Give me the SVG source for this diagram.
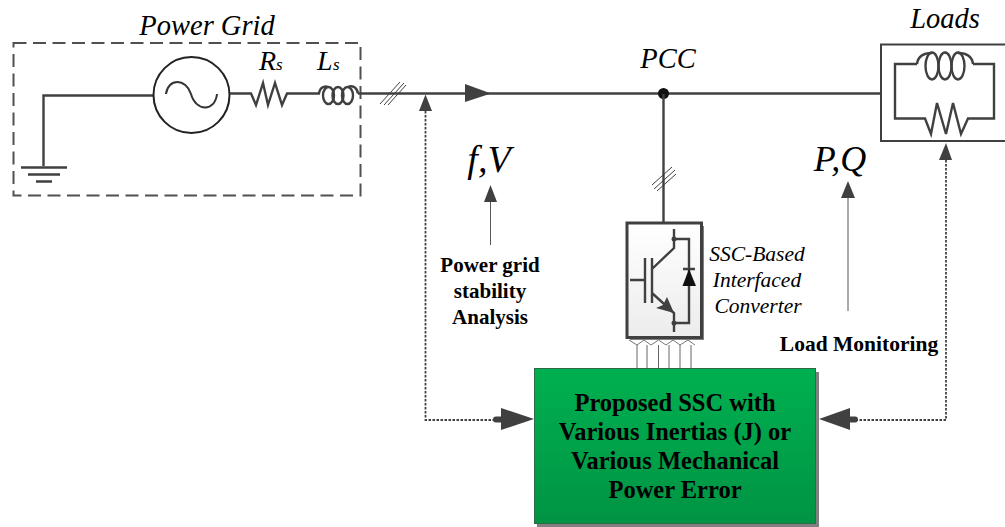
<svg xmlns="http://www.w3.org/2000/svg" width="1005" height="527" viewBox="0 0 1005 527">
<style>
.w{fill:none;stroke:#404040;stroke-width:2.400;stroke-linejoin:miter}
.t{fill:none;stroke:#404040;stroke-width:1}
.d{fill:none;stroke:#404040;stroke-width:1.800;stroke-dasharray:2.500 1.500}
.a{fill:#404040;stroke:none}
.s{fill:#808080;stroke:none}
text{font-family:"Liberation Serif","Times New Roman",serif;fill:#000}
.i{font-style:italic}
.b{font-weight:bold}
</style>
<defs>
<linearGradient id="g" x1="0" y1="0" x2="0" y2="1"><stop offset="0" stop-color="#00b050"/><stop offset="1" stop-color="#009444"/></linearGradient>
<linearGradient id="gw" x1="0" y1="0" x2="0" y2="1"><stop offset="0" stop-color="#fff"/><stop offset="1" stop-color="#ececec"/></linearGradient>
</defs>
<rect width="1005" height="527" fill="#fff"/>
<g id="ssc">
<rect x="537" y="372" width="282" height="155" class="s"/>
<rect x="534.500" y="368.500" width="281" height="155" fill="url(#g)" stroke="#2b6b45" stroke-width="1"/>
<g class="b" font-size="24.500" text-anchor="middle"><text x="675" y="411">Proposed SSC with</text><text x="675" y="440">Various Inertias (J) or</text><text x="675" y="469">Various Mechanical</text><text x="675" y="498">Power Error</text></g>
</g>
<g id="power-grid">
<rect x="13.500" y="43" width="347" height="152.500" fill="none" stroke="#505050" stroke-width="2" stroke-dasharray="13 6.500"/>
<text class="i" x="207" y="35" font-size="28.500" text-anchor="middle">Power Grid</text>
<path class="w" d="M153 95.500H43.500V166"/>
<path class="w" d="M21 167.500H67M28 174.500H60M36 181.500H52"/>
<circle cx="191.500" cy="95" r="38" fill="#fff" stroke="#222" stroke-width="2"/>
<path fill="none" stroke="#333" stroke-width="2" d="M166 94C168 78 186 78 191 94C196 112 215 112 217 94"/>
<path class="w" d="M230 93.500H251L256 105L263 83L268 105L275 83L282 105L287 93.500H320"/>
<path class="w" d="M319 93.500C320 86 326 86 328 87M348 87C352 85 357 87 358 93.500"/>
<ellipse class="w" cx="328.500" cy="95.500" rx="5.500" ry="8.500"/><ellipse class="w" cx="338" cy="95.500" rx="5.500" ry="8.500"/><ellipse class="w" cx="347.500" cy="95.500" rx="5.500" ry="8.500"/>
<text class="i" x="259" y="70" font-size="28">R</text>
<text class="i" x="276" y="70" font-size="17">s</text>
<text class="i" x="317" y="70" font-size="28">L</text>
<text class="i" x="333" y="70" font-size="17">s</text>
</g>
<g id="connectors">
<path class="w" d="M358 93.500H880"/>
<path class="t" d="M380 104L400 82M384 105L404 83M388 105L406 85"/>
<path class="a" d="M465 84L491 93.500L465 102Z"/>
<circle cx="663.500" cy="93.500" r="5.500" fill="#111"/>
<path class="w" d="M663.500 94V222"/>
<path class="t" d="M652 185L672 167M654 189L675 170M657 191L676 174"/>
<path class="d" d="M425.500 111V420H495"/>
<path class="a" d="M425.500 94.500L432 111H419Z"/>
<path class="a" d="M501 416.500H496a3 3 0 0 0 0 6H501V430L534 419L501 408Z"/>
<path class="d" d="M946 160V420H852"/>
<path class="a" d="M946 143L952 160H939Z"/>
<path class="a" d="M850 408V416.500H855a3 3 0 0 1 0 6H850V430L819 419Z"/>
<path fill="none" stroke="#555" stroke-width="1" d="M490.500 202V245M848 198V311"/>
<path class="a" d="M490.500 185L497 202H484Z"/>
<path class="a" d="M848 181L855 198H841Z"/>
<path fill="none" stroke="#666" stroke-width="1" d="M637 345V368M647 345V368M658.500 345V368M669 345V368M680 345V368M691 345V368"/>
<path fill="none" stroke="#777" stroke-width="1" d="M629 340L637 345L644 340L651 345L658.500 340L666 345L673 340L680 345L688 340L695 345"/>
</g>
<g id="converter">
<rect x="630" y="226" width="74" height="114" class="s"/>
<rect x="627" y="223" width="74.500" height="114.500" fill="url(#gw)" stroke="#404040" stroke-width="3"/>
<path class="w" d="M630 280H645M645 258V303M652 258V303M652 269L674 248V229M652 293L674 313V332"/>
<path class="w" d="M674 239H689V323H674M683 269H695"/>
<circle cx="674" cy="239" r="2.500" fill="#404040"/><circle cx="674" cy="323" r="2.500" fill="#404040"/>
<path d="M689 269L682.500 286H696Z" fill="#111"/>
<path class="a" d="M674 313L656 308L663 305L667 297Z"/>
<g class="i" font-size="21.500" text-anchor="middle"><text x="757" y="261">SSC-Based</text><text x="757" y="287">Interfaced</text><text x="758" y="313">Converter</text></g>
</g>
<g id="loads">
<rect x="881" y="44.500" width="126" height="96.500" fill="#fff" stroke="#404040" stroke-width="2"/>
<text class="i" x="945" y="28" font-size="28.500" text-anchor="middle">Loads</text>
<path class="w" d="M917 64H895V118.500H925L931 134L937 103L946 134L953 103L961 134L968 118.500H994V64H973"/>
<path class="w" d="M917 64C918 56 924 53 932 53M958 53C966 53 972 56 973 64"/>
<ellipse class="w" cx="932" cy="66" rx="6.500" ry="13.500"/><ellipse class="w" cx="945" cy="66" rx="6.500" ry="13.500"/><ellipse class="w" cx="958" cy="66" rx="6.500" ry="13.500"/>
</g>
<g id="labels">
<text class="i" x="668" y="68" font-size="28.500" text-anchor="middle">PCC</text>
<text class="i" x="489" y="172" font-size="38" text-anchor="middle">f,V</text>
<text class="i" x="840" y="171" font-size="36" text-anchor="middle">P,Q</text>
<g class="b" font-size="21" text-anchor="middle"><text x="490" y="272">Power grid</text><text x="490" y="298">stability</text><text x="490" y="324">Analysis</text></g>
<text class="b" x="859" y="351" font-size="21.500" text-anchor="middle">Load Monitoring</text>
</g>
</svg>
